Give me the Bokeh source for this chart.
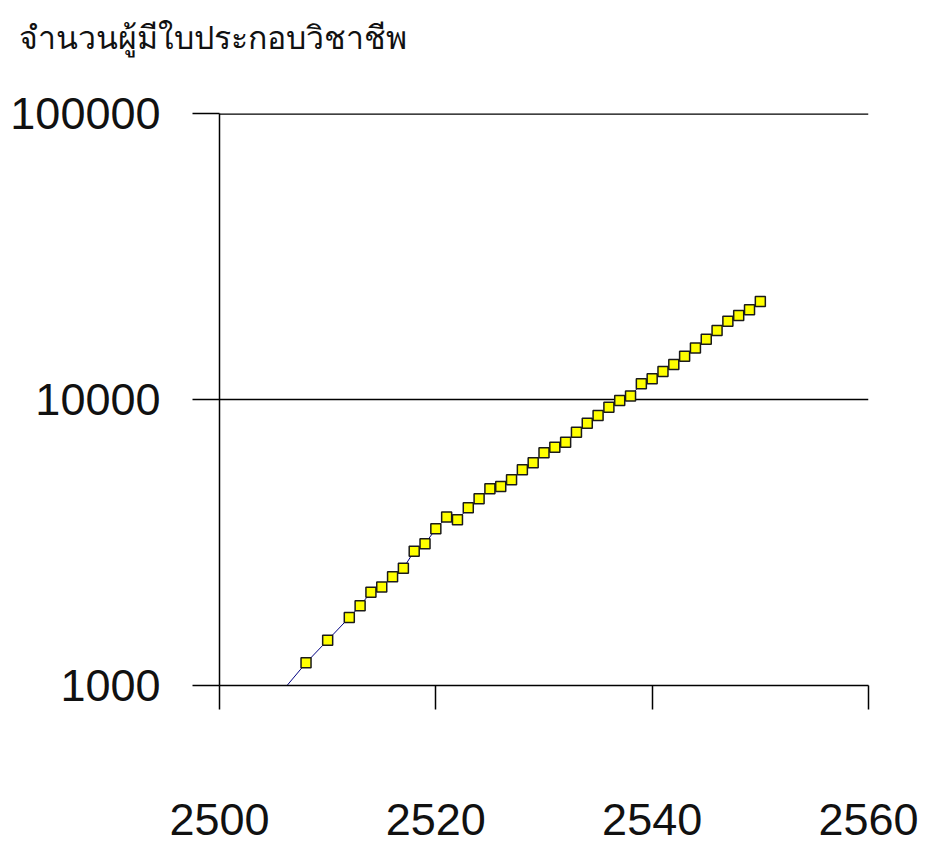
from bokeh.plotting import figure
from bokeh.models import FixedTicker, ColumnDataSource, PrintfTickFormatter, Range1d, Span, Title
from bokeh.embed import file_html
from bokeh.resources import INLINE

# Buddhist-era years and number of licensed professionals
years = [2506, 2508, 2510, 2512, 2513, 2514, 2515, 2516, 2517, 2518, 2519,
         2520, 2521, 2522, 2523, 2524, 2525, 2526, 2527, 2528, 2529,
         2530, 2531, 2532, 2533, 2534, 2535, 2536, 2537, 2538, 2539,
         2540, 2541, 2542, 2543, 2544, 2545, 2546, 2547, 2548, 2549, 2550]
licensees = [975, 1200, 1440, 1730, 1900, 2120, 2210, 2400, 2570, 2950, 3130,
             3530, 3880, 3800, 4180, 4500, 4870, 4960, 5240, 5680, 6010,
             6520, 6810, 7090, 7690, 8260, 8790, 9400, 9920, 10290, 11350,
             11810, 12530, 13260, 14170, 15140, 16250, 17430, 18780, 19670, 20590, 22020]

x_ticks = [2500, 2520, 2540, 2560]
y_ticks = [1000, 10000, 100000]
title_text = "จำนวนผู้มีใบประกอบวิชาชีพ"

y_min, y_max = 1000, 100000

line_src = ColumnDataSource(dict(x=years, y=licensees))
mk_years = [yr for yr, v in zip(years, licensees) if v >= y_min]
mk_vals = [v for v in licensees if v >= y_min]
mk_src = ColumnDataSource(dict(x=mk_years, y=mk_vals))

W, H = 924, 848
p = figure(width=W, height=H, y_axis_type="log",
           x_range=Range1d(2500, 2560), y_range=Range1d(y_min, y_max),
           output_backend="svg", toolbar_location=None,
           min_border_left=219, min_border_right=56,
           min_border_top=113, min_border_bottom=163)
p.outline_line_color = None
p.background_fill_color = "white"
p.border_fill_color = "white"

# main title (outermost) plus a blank spacer title between it and the frame
p.title.text = title_text
p.title.align = "left"
p.title.offset = -201
p.title.standoff = 21
p.title.text_font = "Noto Sans"
p.title.text_font_size = "32px"
p.title.text_font_style = "normal"
p.title.text_color = "#111111"
p.add_layout(Title(text=" ", text_font_size="1px", standoff=42), "above")

p.xgrid.visible = False
p.ygrid.ticker = FixedTicker(ticks=y_ticks)
p.ygrid.grid_line_color = "black"
p.ygrid.grid_line_width = 1.5
p.ygrid.grid_line_alpha = 1.0
p.add_layout(Span(location=y_max, dimension="width", line_color="black",
                  line_width=2.5))

for ax in (p.xaxis[0], p.yaxis[0]):
    ax.axis_line_color = "black"
    ax.axis_line_width = 1.5
    ax.major_tick_line_color = "black"
    ax.major_tick_line_width = 1.5
    ax.major_tick_in = 0
    ax.minor_tick_line_color = None
    ax.major_label_text_font = "Liberation Sans"
    ax.major_label_text_font_size = "45px"
    ax.major_label_text_color = "#111111"

p.xaxis.ticker = FixedTicker(ticks=x_ticks)
p.xaxis.major_tick_out = 24
p.xaxis.major_label_standoff = 94
p.yaxis.ticker = FixedTicker(ticks=y_ticks)
p.yaxis.formatter = PrintfTickFormatter(format="%d")
p.yaxis.major_tick_out = 27
p.yaxis.major_label_standoff = 32

p.line("x", "y", source=line_src, line_color="#000080", line_width=1)
p.scatter("x", "y", source=mk_src, marker="square", size=10,
          fill_color="#FFFF00", line_color="#1a1a1a", line_width=1.5)

open("out.html", "w").write(file_html(p, INLINE))
